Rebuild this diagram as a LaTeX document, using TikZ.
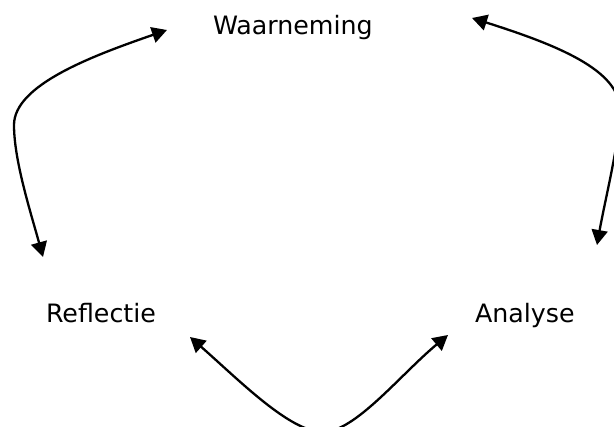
\documentclass[tikz,border=0pt]{standalone}
\usepackage{fontspec}
\setmainfont{DejaVu Sans}
\usetikzlibrary{arrows.meta}
\tikzset{
  lbl/.style={anchor=base west, inner sep=0pt, outer sep=0pt, font=\fontsize{25.3}{30}\selectfont},
  conn/.style={line width=2.3pt, {Triangle[length=15pt,width=16pt]}-{Triangle[length=15pt,width=16pt]}}
}
\begin{document}
\begin{tikzpicture}[x=1pt,y=-1pt]
\useasboundingbox (0,0) rectangle (614,427);
\clip (0,0) rectangle (614,427);
\node[lbl] (W) at (213,35) {Waarneming};
\node[lbl] (R) at (46,323) {Reflectie};
\node[lbl] (A) at (475,323) {Analyse};
% connector ends
\coordinate (wl) at (167,30);
\coordinate (rt) at (43,257);
\coordinate (lc) at (14,125);
\coordinate (wr) at (472,18);
\coordinate (at) at (597,245);
\coordinate (rc) at (620,110);
\coordinate (rb) at (190,337);
\coordinate (ab) at (448,335);
\coordinate (bc) at (323,432);
\draw[conn] (wl) .. controls (92,56) and (14,85) .. (lc) .. controls (14,160) and (30,210) .. (rt);
\draw[conn] (wr) .. controls (557,45) and (620,70) .. (rc) .. controls (620,140) and (605,200) .. (at);
\draw[conn] (rb) .. controls (240,381) and (290,432) .. (bc) .. controls (355,432) and (400,375) .. (ab);
\end{tikzpicture}
\end{document}
